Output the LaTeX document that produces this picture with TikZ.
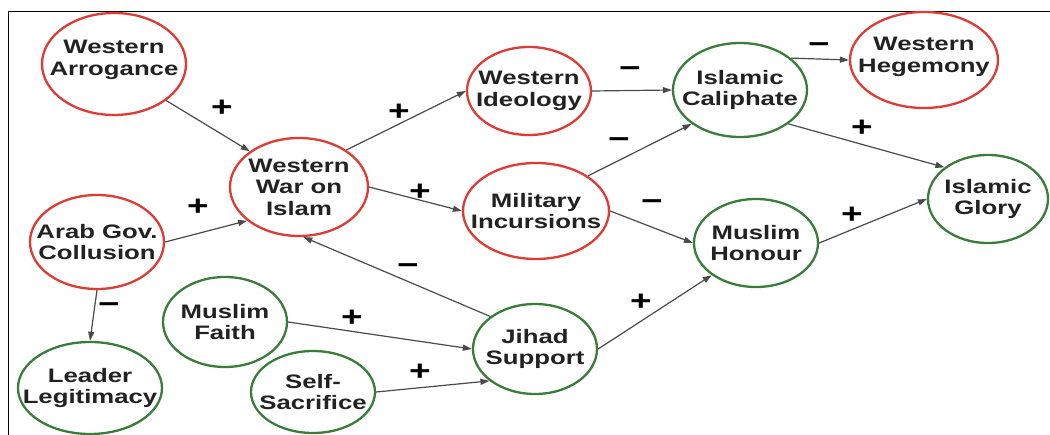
\documentclass[tikz,border=0pt]{standalone}
\usepackage{fontspec}
\usetikzlibrary{arrows.meta,shapes.geometric}
\newfontfamily\bubfont[FakeStretch=1.32]{Liberation Sans}
\definecolor{redc}{HTML}{DD3B33}
\definecolor{grnc}{HTML}{3A7D3A}
\definecolor{arrc}{HTML}{4A4A4A}
\definecolor{txtc}{HTML}{222222}
\tikzset{
  bub/.style={ellipse, line width=2.3pt, inner sep=0pt, fill=white},
  redbub/.style={bub, draw=redc},
  grnbub/.style={bub, draw=grnc},
  txt/.style={align=center, text=txtc, font=\bubfont\bfseries\fontsize{19.5}{21.5}\selectfont},
  sgn/.style={text=black, inner sep=0pt, font=\bubfont\bfseries\fontsize{28}{28}\selectfont},
  link/.style={-{Triangle[length=9pt,width=6pt]}, arrc, line width=1.2pt},
}

\begin{document}
\begin{tikzpicture}[x=1pt, y=-1pt]
  \useasboundingbox[fill=white] (0,0) rectangle (1050,435);
  % frame
  \draw[line width=0.8pt] (8,435) -- (8,11) -- (1050,11);

  % western side
  \node[redbub, minimum width=144pt, minimum height=102pt, label={[txt, yshift=4pt]center:{Western\\Arrogance}}] (arrog) at (114,64) {};
  \node[redbub, minimum width=138pt, minimum height=98pt, label={[txt]center:{Western\\War on\\Islam}}] (wwar) at (299,187) {};
  \node[redbub, minimum width=134pt, minimum height=94pt, label={[txt]center:{Arab Gov.\\Collusion}}] (arab) at (97,242) {};
  \node[redbub, minimum width=124pt, minimum height=88pt, label={[txt]center:{Western\\Ideology}}] (ideol) at (529,91) {};
  \node[redbub, minimum width=146pt, minimum height=96pt, label={[txt]center:{Military\\Incursions}}] (milit) at (536,211) {};
  \node[redbub, minimum width=148pt, minimum height=96pt, label={[txt, yshift=3pt]center:{Western\\Hegemony}}] (hegem) at (924,60) {};

  % islamic side
  \node[grnbub, minimum width=144pt, minimum height=92pt, label={[txt]center:{Leader\\Legitimacy}}] (leader) at (90,388) {};
  \node[grnbub, minimum width=124pt, minimum height=90pt, label={[txt]center:{Muslim\\Faith}}] (faith) at (225,322) {};
  \node[grnbub, minimum width=124pt, minimum height=82pt, label={[txt]center:{Self-\\Sacrifice}}] (selfs) at (313,392) {};
  \node[grnbub, minimum width=124pt, minimum height=90pt, label={[txt]center:{Jihad\\Support}}] (jihad) at (535,349) {};
  \node[grnbub, minimum width=134pt, minimum height=94pt, label={[txt]center:{Islamic\\Caliphate}}] (calip) at (740,90) {};
  \node[grnbub, minimum width=124pt, minimum height=88pt, label={[txt]center:{Muslim\\Honour}}] (honour) at (756,243) {};
  \node[grnbub, minimum width=120pt, minimum height=88pt, label={[txt]center:{Islamic\\Glory}}] (glory) at (988,199) {};

  % links
  \draw[link] (arrog.-35) -- (wwar.144);
  \draw[link] (arab.east) -- (wwar.-147);
  \draw[link] (wwar.38) -- (ideol.west);
  \draw[link] (wwar.east) -- (milit.west);
  \draw[link] (ideol.east) -- (calip.west);
  \draw[link] (milit.34) -- (calip.-145);
  \draw[link] (milit.east) -- (honour.west);
  \draw[link] (calip.32) -- (hegem.west);
  \draw[link] (calip.-35) -- (glory.144);
  \draw[link] (honour.east) -- (glory.west);
  \draw[link] (jihad.144) -- (wwar.-85);
  \draw[link] (faith.east) -- (jihad.west);
  \draw[link] (selfs.east) -- (jihad.-145);
  \draw[link] (jihad.east) -- (honour.-144);
  \draw[link] (arab.south) -- (leader.north);

  % signs
  \foreach \n/\p/\s in {s1/{222,108}/+, s2/{198,207}/+, s3/{399,112}/+, s4/{420,192}/+,
      s5/{630,72}/−, s6/{619,143}/−, s7/{652,205}/−, s8/{819,48}/−,
      s9/{862,128}/+, s10/{852,215}/+, s11/{408,269}/−, s12/{352,318}/+,
      s13/{420,372}/+, s14/{641,302}/+, s15/{109,308}/−}
    \node[sgn] (\n) at (\p) {\s};
\end{tikzpicture}
\end{document}
